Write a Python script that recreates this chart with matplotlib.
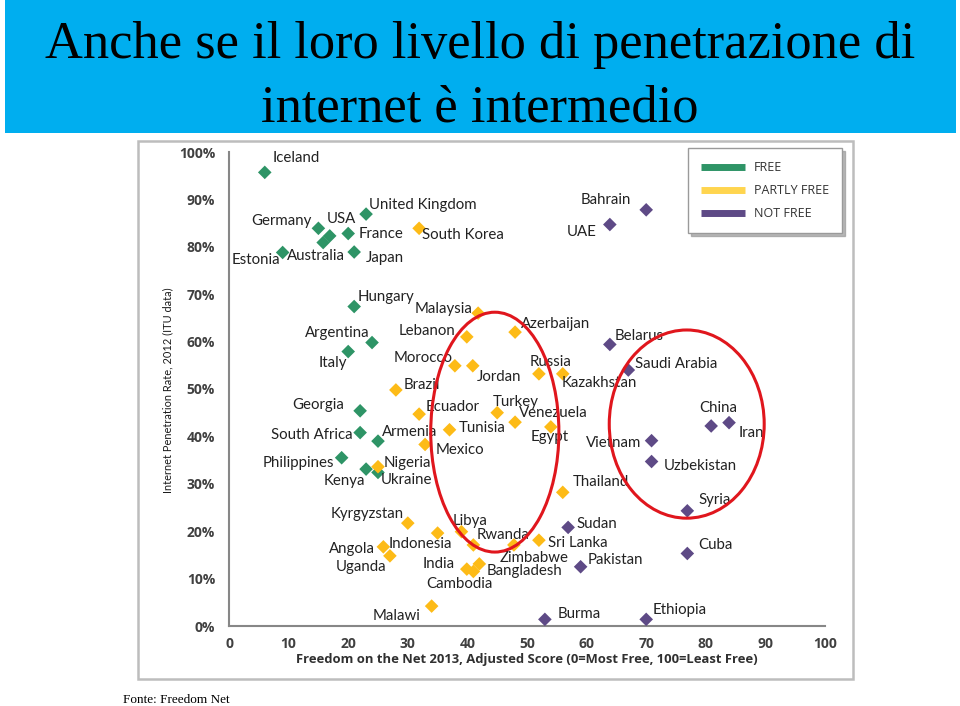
import matplotlib
matplotlib.use('Agg')
import matplotlib.pyplot as plt
from matplotlib.lines import Line2D
from matplotlib.patches import Rectangle, Ellipse
from matplotlib.ticker import FuncFormatter

# Dati (Freedom on the Net 2013 vs penetrazione ITU 2012)
countries = ['Iceland', 'United Kingdom', 'Germany', 'USA', 'Australia', 'France', 'Estonia',
             'Japan', 'South Korea', 'Hungary', 'Malaysia', 'Bahrain', 'UAE', 'Argentina',
             'Italy', 'Lebanon', 'Azerbaijan', 'Belarus', 'Morocco', 'Jordan', 'Russia',
             'Kazakhstan', 'Saudi Arabia', 'Brazil', 'Georgia', 'Ecuador', 'Turkey',
             'Venezuela', 'South Africa', 'Armenia', 'Tunisia', 'Egypt', 'China', 'Iran',
             'Mexico', 'Vietnam', 'Philippines', 'Kenya', 'Ukraine', 'Nigeria', 'Uzbekistan',
             'Thailand', 'Syria', 'Kyrgyzstan', 'Indonesia', 'Libya', 'Sudan', 'Angola',
             'Rwanda', 'Zimbabwe', 'Sri Lanka', 'Uganda', 'Cuba', 'India', 'Cambodia',
             'Bangladesh', 'Pakistan', 'Malawi', 'Burma', 'Ethiopia']
score = [6.0, 23.0, 15.0, 16.9, 15.8, 20.0, 9.0,
         21.0, 31.9, 21.0, 41.8, 70.0, 63.9, 24.0,
         20.0, 39.9, 48.0, 63.9, 37.9, 40.9, 52.0,
         56.0, 67.0, 28.0, 22.0, 31.9, 45.0,
         48.0, 22.0, 25.0, 37.0, 54.0, 80.9, 83.9,
         32.9, 70.9, 18.9, 23.0, 25.0, 25.0, 70.9,
         56.0, 76.9, 30.0, 35.0, 39.0, 56.9, 25.9,
         41.0, 47.8, 52.0, 27.0, 76.9, 39.9, 41.0,
         42.0, 59.0, 34.0, 53.0, 70.0]
penetration = [95.7, 86.9, 83.9, 82.3, 80.9, 82.8, 78.8,
               78.9, 83.9, 67.4, 66.0, 87.8, 84.7, 59.8,
               57.9, 61.0, 62.0, 59.4, 54.9, 54.9, 53.2,
               53.2, 54.0, 49.8, 45.4, 44.7, 45.0,
               43.0, 40.8, 39.0, 41.4, 42.0, 42.2, 42.9,
               38.3, 39.1, 35.5, 33.1, 32.4, 33.6, 34.7,
               28.2, 24.3, 21.7, 19.6, 19.9, 20.8, 16.7,
               17.1, 17.1, 18.1, 14.8, 15.3, 12.0, 11.5,
               13.1, 12.5, 4.2, 1.4, 1.4]
status = ['F', 'F', 'F', 'F', 'F', 'F', 'F',
          'F', 'P', 'F', 'P', 'N', 'N', 'F',
          'F', 'P', 'P', 'N', 'P', 'P', 'P',
          'P', 'N', 'P', 'F', 'P', 'P',
          'P', 'F', 'F', 'P', 'P', 'N', 'N',
          'P', 'N', 'F', 'F', 'F', 'P', 'N',
          'P', 'N', 'P', 'P', 'P', 'N', 'P',
          'P', 'P', 'P', 'P', 'N', 'P', 'P',
          'P', 'N', 'P', 'N', 'N']

legend_names = {'F': 'FREE', 'P': 'PARTLY FREE', 'N': 'NOT FREE'}
x_ticks = [0, 10, 20, 30, 40, 50, 60, 70, 80, 90, 100]
y_ticks = [0, 10, 20, 30, 40, 50, 60, 70, 80, 90, 100]

# Stile
colori = {'F': '#2E9466', 'P': '#FDBB17', 'N': '#5E4A86'}
colori_leg = {'F': '#2E9466', 'P': '#FFD54F', 'N': '#5E4A86'}
txt_col = '#222222'
FONT = 'Lato'

# spostamento etichette in pixel rispetto al punto (dx, dy verso l'alto)
label_off = {
    'Iceland': (31, 14), 'United Kingdom': (57, 9), 'Germany': (-37, 7), 'USA': (12, 17),
    'Australia': (-7, -13), 'France': (33, 0), 'Estonia': (-27, -8), 'Japan': (31, -6),
    'South Korea': (44, -7), 'Hungary': (32, 10), 'Malaysia': (-35, 4), 'Bahrain': (-40, 10),
    'UAE': (-28, -7), 'Argentina': (-35, 10), 'Italy': (-15, -11), 'Lebanon': (-40, 6),
    'Azerbaijan': (40, 8), 'Belarus': (29, 8), 'Morocco': (-32, 8), 'Jordan': (26, -11),
    'Russia': (12, 12), 'Kazakhstan': (37, -9), 'Saudi Arabia': (48, 6), 'Brazil': (26, 5),
    'Georgia': (-42, 6), 'Ecuador': (34, 7), 'Turkey': (19, 11), 'Venezuela': (38, 9),
    'South Africa': (-48, -2), 'Armenia': (32, 9), 'Tunisia': (33, 2), 'Egypt': (-1, -10),
    'China': (7, 18), 'Iran': (22, -10), 'Mexico': (35, -6), 'Vietnam': (-38, -2),
    'Philippines': (-43, -5), 'Kenya': (-22, -12), 'Ukraine': (28, -8), 'Nigeria': (29, 4),
    'Uzbekistan': (49, -4), 'Thailand': (38, 10), 'Syria': (27, 11), 'Kyrgyzstan': (-41, 9),
    'Indonesia': (-17, -11), 'Libya': (9, 11), 'Sudan': (29, 3), 'Angola': (-31, -2),
    'Rwanda': (30, 10), 'Zimbabwe': (20, -13), 'Sri Lanka': (39, -3), 'Uganda': (-29, -11),
    'Cuba': (28, 8), 'India': (-28, 5), 'Cambodia': (-14, -13), 'Bangladesh': (45, -7),
    'Pakistan': (35, 7), 'Malawi': (-35, -10), 'Burma': (34, 5), 'Ethiopia': (33, 9),
}

W, H = 960, 706
fig = plt.figure(figsize=(W / 100, H / 100), dpi=100)

# Banner del titolo
fig.patches.append(Rectangle((5 / W, 1 - 133 / H), 951 / W, 133 / H, transform=fig.transFigure,
                             facecolor='#00AEEF', edgecolor='none', zorder=-2))
fig.text(0.5, 1 - 58 / H, 'Anche se il loro livello di penetrazione di', ha='center', va='baseline',
         fontsize=37.8, family='Liberation Serif', color='black')
fig.text(0.5, 1 - 122 / H, 'internet è intermedio', ha='center', va='baseline',
         fontsize=37.8, family='Liberation Serif', color='black')

# Cornice del grafico
fig.patches.append(Rectangle((138 / W, 1 - 679 / H), 715 / W, 538 / H, transform=fig.transFigure,
                             facecolor='white', edgecolor='#BDBDBD', lw=1.8, zorder=-2))

ax = fig.add_axes([229 / W, 1 - 626 / H, 596 / W, 474 / H])
ax.set_xlim(0, 100)
ax.set_ylim(0, 100)
ax.patch.set_alpha(0)

for k in ['F', 'P', 'N']:
    xs = [s for s, st in zip(score, status) if st == k]
    ys = [p for p, st in zip(penetration, status) if st == k]
    ax.scatter(xs, ys, marker='D', s=48, color=colori[k], edgecolor='none', zorder=3, clip_on=False)

for name, sx, py in zip(countries, score, penetration):
    dx, dy = label_off[name]
    ax.annotate(name, (sx, py), xytext=(dx, dy), textcoords='offset pixels',
                ha='center', va='center', fontsize=10.8, family=FONT, color=txt_col, zorder=4)

# Cerchi rossi
ax.add_patch(Ellipse((44.6, 40.9), 21.5, 50.6, fill=False, edgecolor='#E0161D', lw=2.2, zorder=5))
ax.add_patch(Ellipse((76.8, 42.6), 26.0, 39.7, fill=False, edgecolor='#E0161D', lw=2.2, zorder=5))

for s in ['top', 'right']:
    ax.spines[s].set_visible(False)
for s in ['left', 'bottom']:
    ax.spines[s].set_color('#878787')
    ax.spines[s].set_linewidth(1.5)

ax.set_xticks(x_ticks)
ax.set_yticks(y_ticks)
ax.yaxis.set_major_formatter(FuncFormatter(lambda v, p: f'{int(v)}%'))
ax.tick_params(length=0, labelsize=10, labelcolor='#404040')
ax.tick_params(axis='y', pad=10)
ax.tick_params(axis='x', pad=8)
for t in ax.get_xticklabels() + ax.get_yticklabels():
    t.set_family('Open Sans')
    t.set_fontweight('bold')

ax.set_xlabel('Freedom on the Net 2013, Adjusted Score (0=Most Free, 100=Least Free)',
              family='Open Sans', fontweight='bold', fontsize=9.4, color='#303030', va='center')
ax.xaxis.set_label_coords(0.5, (626 - 659) / 474)
ax.set_ylabel('Internet Penetration Rate, 2012 (ITU data)', family=FONT, fontsize=7.9,
              color='#1a1a1a', va='center')
ax.yaxis.set_label_coords((168 - 229) / 596, (626 - 390) / 474)

handles = [Line2D([0], [0], color=colori_leg[k], lw=5, solid_capstyle='butt') for k in ['F', 'P', 'N']]
leg = ax.legend(handles, [legend_names[k] for k in ['F', 'P', 'N']], loc='upper left',
                bbox_to_anchor=(688 / W, 1 - 148 / H), bbox_transform=fig.transFigure,
                borderaxespad=0, frameon=True, fancybox=False,
                shadow={'color': '0.6', 'alpha': 0.7}, edgecolor='#9A9A9A',
                handlelength=3.5, labelspacing=0.8, borderpad=1.05, handletextpad=0.7,
                prop={'family': 'Open Sans', 'size': 9})
leg.get_frame().set_linewidth(1.0)
for t in leg.get_texts():
    t.set_color('#333333')

fig.text(123 / W, 1 - 703 / H, 'Fonte: Freedom Net', ha='left', va='baseline',
         fontsize=9.5, family='Liberation Serif', color='black')

fig.savefig('out.png', dpi=100)
